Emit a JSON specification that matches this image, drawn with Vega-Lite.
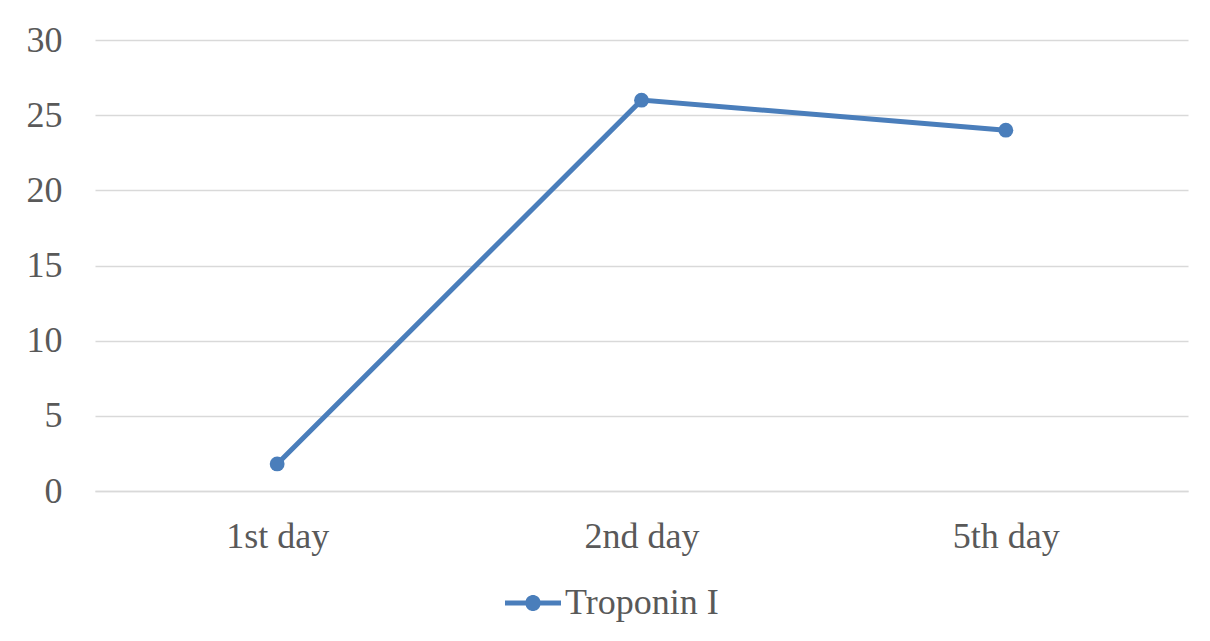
{
  "$schema": "https://vega.github.io/schema/vega-lite/v6.json",
  "autosize": "none",
  "width": 1093,
  "height": 451,
  "padding": {"left": 95, "top": 40, "right": 22, "bottom": 150},
  "background": "white",
  "config": {
    "view": {"stroke": null},
    "font": "Liberation Serif"
  },
  "data": {
    "values": [
      {"day": "1st day", "value": 1.8, "series": "Troponin I"},
      {"day": "2nd day", "value": 26, "series": "Troponin I"},
      {"day": "5th day", "value": 24, "series": "Troponin I"}
    ]
  },
  "encoding": {
    "x": {
      "field": "day",
      "type": "nominal",
      "sort": null,
      "scale": {"paddingInner": 0, "paddingOuter": 0},
      "axis": {
        "title": null,
        "labelAngle": 0,
        "labelFont": "Liberation Serif",
        "labelFontSize": 36,
        "labelColor": "#595959",
        "labelPadding": 28,
        "ticks": false,
        "grid": false,
        "domainColor": "#d9d9d9",
        "domainWidth": 1.5
      }
    },
    "y": {
      "field": "value",
      "type": "quantitative",
      "scale": {"domain": [0, 30]},
      "axis": {
        "title": null,
        "values": [0, 5, 10, 15, 20, 25, 30],
        "labelFont": "Liberation Serif",
        "labelFontSize": 36,
        "labelColor": "#595959",
        "labelPadding": 33,
        "ticks": false,
        "domain": false,
        "gridColor": "#d9d9d9",
        "gridWidth": 1.5
      }
    },
    "color": {
      "field": "series",
      "type": "nominal",
      "scale": {"range": ["#4a7ebb"]},
      "legend": {
        "title": null,
        "orient": "none",
        "legendX": 410,
        "legendY": 535,
        "symbolType": "M-1,-0.09 L-0.26,-0.09 A0.27,0.27 0 0,1 0.26,-0.09 L1,-0.09 L1,0.09 L0.26,0.09 A0.27,0.27 0 0,1 -0.26,0.09 L-1,0.09 Z",
        "symbolSize": 3136,
        "symbolFillColor": "#4a7ebb",
        "symbolStrokeWidth": 0,
        "labelFont": "Liberation Serif",
        "labelFontSize": 36,
        "labelColor": "#595959",
        "labelOffset": 4
      }
    }
  },
  "layer": [
    {"mark": {"type": "line", "strokeWidth": 5}},
    {"mark": {"type": "point", "filled": true, "size": 220, "opacity": 1}}
  ]
}
